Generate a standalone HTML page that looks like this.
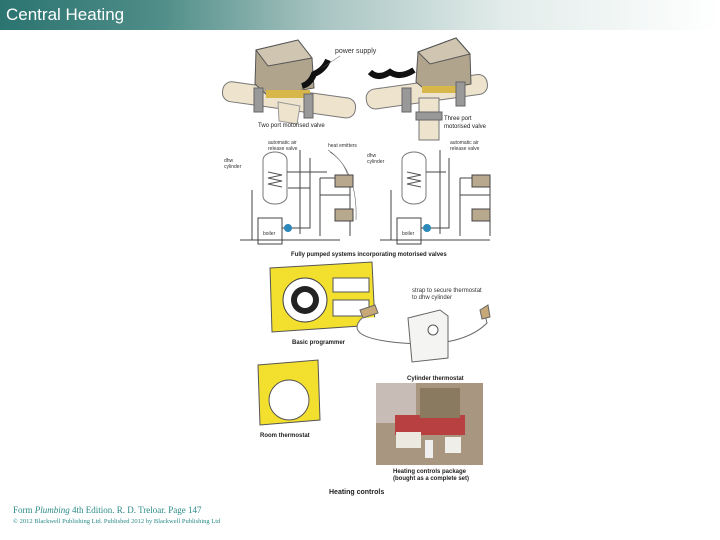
<!DOCTYPE html>
<html><head><style>
body{margin:0;width:720px;height:540px;background:#fff;overflow:hidden;position:relative;font-family:"Liberation Sans",sans-serif}
.hd{position:absolute;left:0;top:0;width:720px;height:30px;background:linear-gradient(90deg,#2b7470 0%,#4f8d88 22%,#a9c5c2 45%,#e2ecea 70%,#fff 100%)}
.hd span{position:absolute;left:6px;top:5px;color:#fff;font-size:17px}
.ft{position:absolute;left:13px;font-family:"Liberation Serif",serif;color:#2a8a86}
</style></head><body>
<div class="hd"><span>Central Heating</span></div>
<svg width="720" height="540" style="position:absolute;left:0;top:0" font-family="Liberation Sans,sans-serif">
<!-- two port valve -->
<rect x="222" y="90" width="134" height="20" rx="9" fill="#eee3cc" stroke="#777" transform="rotate(8 290 100)"/>
<path d="M278 102 l22 4 l-3 18 l-18 -3z" fill="#eee3cc" stroke="#999"/>
<polygon points="256,50 298,40 312,58 314,88 268,96 255,84" fill="#b0a48c" stroke="#555"/>
<polygon points="256,50 298,40 312,58 268,66" fill="#cfc5b1" stroke="#555"/>
<rect x="266" y="90" width="44" height="8" fill="#d7b64a"/>
<rect x="254" y="88" width="9" height="24" fill="#999" stroke="#666"/>
<rect x="304" y="94" width="9" height="24" fill="#999" stroke="#666"/>
<path d="M302 86 q8 -2 12 -12 q10 -4 14 -14" stroke="#111" stroke-width="6" fill="none"/>
<path d="M322 68 l18 -12" stroke="#555" stroke-width="0.5"/>
<text x="335" y="53" font-size="7" fill="#333">power supply</text>
<text x="258" y="127" font-size="6" fill="#222">Two port motorised valve</text>
<!-- three port -->
<rect x="366" y="82" width="122" height="20" rx="9" fill="#eee3cc" stroke="#777" transform="rotate(-8 425 93)"/>
<rect x="419" y="98" width="20" height="42" fill="#eee3cc" stroke="#777"/>
<rect x="416" y="112" width="26" height="8" fill="#999" stroke="#666"/>
<polygon points="418,52 456,38 470,54 471,84 428,92 416,82" fill="#b0a48c" stroke="#555"/>
<polygon points="418,52 456,38 470,54 430,64" fill="#cfc5b1" stroke="#555"/>
<rect x="422" y="86" width="40" height="7" fill="#d7b64a"/>
<rect x="402" y="88" width="9" height="24" fill="#999" stroke="#666"/>
<rect x="456" y="82" width="9" height="24" fill="#999" stroke="#666"/>
<path d="M370 72 q8 8 20 0 q10 7 24 -2" stroke="#111" stroke-width="6" fill="none"/>
<text x="444" y="120" font-size="6" fill="#222">Three port</text>
<text x="444" y="128" font-size="6" fill="#222">motorised valve</text>
<!-- schematics -->
<g stroke="#444" fill="none" stroke-width="1">
<path d="M263 160 a12 8 0 0 1 24 0 v36 a12 8 0 0 1 -24 0 z" stroke="#777"/>
<path d="M268 172 l14 3 l-14 3 l14 3 l-14 3 l14 3" stroke="#555"/>
<path d="M252 190 v50 M258 218 h24 v26 h-24 z M282 228 h28 v-70 M287 172 h40 M288 188 h22 M300 150 v84 M240 240 h100 M320 178 v58 M320 178 h30 v58 M320 195 h30"/>
<path d="M402 160 a12 8 0 0 1 24 0 v36 a12 8 0 0 1 -24 0 z" stroke="#777"/>
<path d="M407 172 l14 3 l-14 3 l14 3 l-14 3 l14 3" stroke="#555"/>
<path d="M391 190 v50 M397 218 h24 v26 h-24 z M421 228 h28 v-70 M426 172 h20 M440 150 v84 M380 240 h110 M460 178 v58 M460 178 h30 v58 M460 195 h30"/>
<path d="M328 150 q30 20 28 70 M330 152 q15 10 18 25" stroke="#666" stroke-width="0.6"/>
</g>
<g fill="#b8a98e" stroke="#444"><rect x="335" y="175" width="18" height="12"/><rect x="335" y="209" width="18" height="12"/><rect x="472" y="175" width="18" height="12"/><rect x="472" y="209" width="18" height="12"/></g>
<circle cx="288" cy="228" r="4" fill="#2b88b8"/><circle cx="427" cy="228" r="4" fill="#2b88b8"/>
<g font-size="5" fill="#333"><text x="263" y="235">boiler</text><text x="402" y="235">boiler</text>
<text x="224" y="162">dhw</text><text x="224" y="168">cylinder</text><text x="268" y="144">automatic air</text><text x="268" y="150">release valve</text><text x="328" y="147">heat emitters</text>
<text x="367" y="157">dhw</text><text x="367" y="163">cylinder</text><text x="450" y="144">automatic air</text><text x="450" y="150">release valve</text></g>
<text x="291" y="256" font-size="6" font-weight="bold" fill="#222">Fully pumped systems incorporating motorised valves</text>
<!-- programmer -->
<polygon points="270,268 372,262 375,325 272,332" fill="#f3df2e" stroke="#555"/>
<circle cx="305" cy="300" r="22" fill="#fff" stroke="#444"/>
<circle cx="305" cy="300" r="14" fill="#222"/><circle cx="305" cy="300" r="8" fill="#fff"/>
<rect x="333" y="278" width="36" height="14" fill="#fff" stroke="#555"/><rect x="333" y="300" width="36" height="16" fill="#fff" stroke="#555"/>
<text x="292" y="344" font-size="6" font-weight="bold" fill="#222">Basic programmer</text>
<path d="M362 318 q-20 20 40 25 q60 5 85 -20 l-3 -12" stroke="#666" fill="#fff"/>
<path d="M360 310 l15 -5 l3 8 l-15 5z M480 310 l8 -5 l2 12 l-8 2z" fill="#c7a878" stroke="#666"/>
<polygon points="408,318 440,310 448,316 448,358 412,362" fill="#f4f4f2" stroke="#666"/>
<circle cx="433" cy="330" r="5" fill="#fff" stroke="#555"/>
<text x="412" y="292" font-size="6" fill="#333">strap to secure thermostat</text><text x="412" y="299" font-size="6" fill="#333">to dhw cylinder</text>
<text x="407" y="380" font-size="6" font-weight="bold" fill="#222">Cylinder thermostat</text>
<!-- room thermostat -->
<polygon points="258,365 318,360 320,420 260,425" fill="#f3df2e" stroke="#555"/>
<circle cx="289" cy="400" r="20" fill="#fff" stroke="#555"/>
<text x="260" y="437" font-size="6" font-weight="bold" fill="#222">Room thermostat</text>
<!-- photo -->
<rect x="376" y="383" width="107" height="82" fill="#a89680"/>
<rect x="376" y="383" width="40" height="40" fill="#c8bcb6"/>
<rect x="395" y="415" width="70" height="20" fill="#b84040"/>
<rect x="420" y="388" width="40" height="30" fill="#8a7a60"/>
<rect x="396" y="432" width="25" height="16" fill="#ece9e0"/><rect x="445" y="437" width="16" height="16" fill="#f0eee8"/><rect x="425" y="440" width="8" height="18" fill="#eee"/>
<text x="393" y="473" font-size="6" font-weight="bold" fill="#222">Heating controls package</text>
<text x="393" y="480" font-size="6" font-weight="bold" fill="#222">(bought as a complete set)</text>
<text x="329" y="494" font-size="7" font-weight="bold" fill="#222">Heating controls</text>
</svg>
<div class="ft" style="top:505px;font-size:9px">Form <i>Plumbing</i> 4th Edition. R. D. Treloar. Page 147</div>
<div class="ft" style="top:518px;font-size:6.5px">© 2012 Blackwell Publishing Ltd. Published 2012 by Blackwell Publishing Ltd</div>
</body></html>
